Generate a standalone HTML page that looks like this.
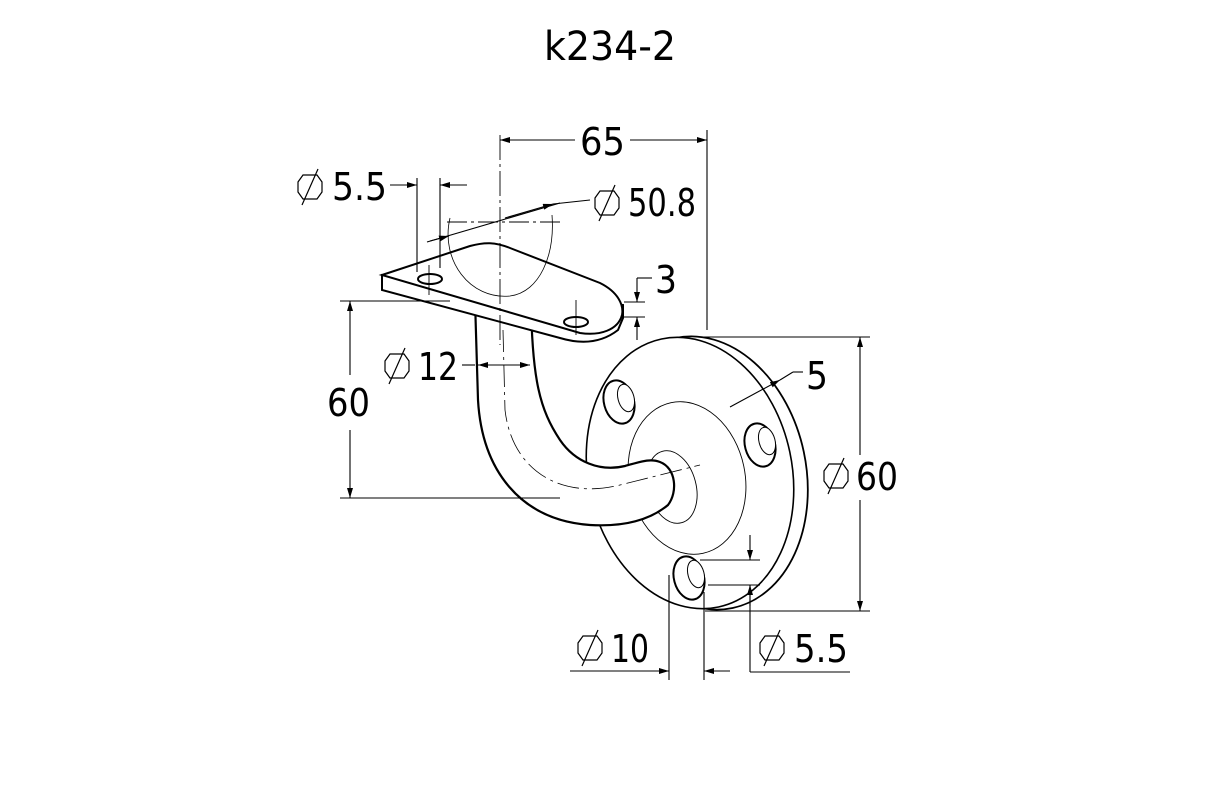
<!DOCTYPE html>
<html><head><meta charset="utf-8"><style>
html,body{margin:0;padding:0;background:#fff;}
svg{display:block}
text{font-family:"DejaVu Sans","Liberation Sans",sans-serif;fill:#000}
</style></head><body>
<svg width="1205" height="800" viewBox="0 0 1205 800" xmlns="http://www.w3.org/2000/svg">
<defs>
<marker id="a" viewBox="0 0 10 6" refX="10" refY="3" markerWidth="10" markerHeight="6" orient="auto-start-reverse" markerUnits="userSpaceOnUse"><path d="M0,0 L10,3 L0,6 z" fill="#000"/></marker>
<g id="dia"><path d="M-7,-12 L7,-12 L12,-5 L12,5 L7,12 L-7,12 L-12,5 L-12,-5 Z" fill="none" stroke="#000" stroke-width="1.2"/><line x1="-8" y1="18" x2="8" y2="-18" stroke="#000" stroke-width="1.2"/></g>
</defs>

<text x="544" y="60" font-size="40" textLength="132" lengthAdjust="spacingAndGlyphs">k234-2</text>

<!-- flange -->
<g stroke="#000" fill="#fff">
<ellipse cx="704" cy="473" rx="102" ry="138" transform="rotate(-12 704 473)" stroke-width="1.8"/>
<ellipse cx="690" cy="473" rx="102" ry="137" transform="rotate(-12 690 473)" stroke-width="1.6"/>
</g>
<ellipse cx="687" cy="478" rx="58" ry="77" transform="rotate(-12 687 478)" fill="none" stroke="#000" stroke-width="0.9"/>
<g fill="#fff" stroke="#000">
<ellipse cx="619" cy="402" rx="15" ry="22" transform="rotate(-15 619 402)" stroke-width="2"/>
<ellipse cx="626" cy="398" rx="8" ry="14" transform="rotate(-15 626 398)" stroke-width="1"/>
<ellipse cx="760" cy="445" rx="15" ry="22" transform="rotate(-15 760 445)" stroke-width="2"/>
<ellipse cx="767" cy="441" rx="8" ry="14" transform="rotate(-15 767 441)" stroke-width="1"/>
<ellipse cx="689" cy="578" rx="15" ry="22" transform="rotate(-15 689 578)" stroke-width="2"/>
<ellipse cx="696" cy="574" rx="8" ry="14" transform="rotate(-15 696 574)" stroke-width="1"/>
</g>
<ellipse cx="672" cy="487" rx="24" ry="37" transform="rotate(-15 672 487)" fill="#fff" stroke="#000" stroke-width="0.9"/>
<!-- tube -->
<path d="M475,300 L478,400 C482,470 520,520 590,525 C625,527 650,520 668,505 C678,492 676,468 660,462 C650,458 640,462 625,466 C600,472 575,462 560,440 C540,410 532,380 531,300 Z" fill="#fff" stroke="#000" stroke-width="2.2"/>
<path d="M503,330 L505,410 C512,470 560,500 620,485 L700,465" fill="none" stroke="#000" stroke-width="0.8" stroke-dasharray="22,5,3,5"/>
<!-- plate -->
<path d="M382,275 L382,290 L560,338 C580,344 600,344 618,330 L623,318 L623,305 Z" fill="#fff" stroke="#000" stroke-width="2"/>
<path d="M382,275 L470,246 C485,242 495,242 510,248 L600,283 C618,292 624,305 622,315 C618,330 600,336 580,333 L382,275 Z" fill="#fff" stroke="#000" stroke-width="2"/>
<path d="M450,218 C440,260 470,300 510,296 C540,292 555,255 552,215" fill="none" stroke="#000" stroke-width="0.8"/>
<ellipse cx="430" cy="279" rx="12" ry="5" fill="#fff" stroke="#000" stroke-width="2"/>
<ellipse cx="576" cy="322" rx="12" ry="5" fill="#fff" stroke="#000" stroke-width="2"/>
<g stroke="#000" stroke-width="0.9" fill="none">
<line x1="500" y1="135" x2="500" y2="345" stroke-dasharray="25,4,3,4"/>
<line x1="447" y1="222" x2="560" y2="222" stroke-dasharray="20,4,3,4"/>
<line x1="429" y1="265" x2="429" y2="295"/>
<line x1="576" y1="300" x2="576" y2="335"/>
</g>
<g stroke="#000" stroke-width="1.1" fill="none">
<line x1="707" y1="130" x2="707" y2="330"/>
<line x1="500" y1="140" x2="575" y2="140" marker-start="url(#a)"/>
<line x1="630" y1="140" x2="707" y2="140" marker-end="url(#a)"/>
<line x1="417" y1="178" x2="417" y2="272"/>
<line x1="440" y1="178" x2="440" y2="268"/>
<line x1="390" y1="185" x2="417" y2="185" marker-end="url(#a)"/>
<line x1="467" y1="185" x2="440" y2="185" marker-end="url(#a)"/>
<line x1="427" y1="242" x2="560" y2="203"/>
<line x1="430" y1="241" x2="449" y2="236" marker-end="url(#a)"/>
<line x1="505" y1="218" x2="553" y2="204" marker-end="url(#a)"/>
<line x1="553" y1="204" x2="590" y2="200"/>
<line x1="624" y1="302" x2="645" y2="302"/>
<line x1="624" y1="317" x2="645" y2="317"/>
<line x1="637" y1="278" x2="652" y2="278"/>
<line x1="637" y1="278" x2="637" y2="302" marker-end="url(#a)"/>
<line x1="637" y1="340" x2="637" y2="317" marker-end="url(#a)"/>
<line x1="340" y1="301" x2="450" y2="301"/>
<line x1="340" y1="498" x2="560" y2="498"/>
<line x1="350" y1="375" x2="350" y2="301" marker-end="url(#a)"/>
<line x1="350" y1="430" x2="350" y2="498" marker-end="url(#a)"/>
<line x1="462" y1="365" x2="475" y2="365"/>
<line x1="478" y1="365" x2="530" y2="365" marker-start="url(#a)" marker-end="url(#a)"/>
<line x1="730" y1="407" x2="780" y2="380" marker-end="url(#a)"/>
<line x1="780" y1="380" x2="793" y2="372"/>
<line x1="793" y1="372" x2="803" y2="372"/>
<line x1="700" y1="337" x2="870" y2="337"/>
<line x1="705" y1="611" x2="870" y2="611"/>
<line x1="860" y1="455" x2="860" y2="337" marker-end="url(#a)"/>
<line x1="860" y1="500" x2="860" y2="611" marker-end="url(#a)"/>
<line x1="700" y1="560" x2="760" y2="560"/>
<line x1="708" y1="585" x2="760" y2="585"/>
<line x1="750" y1="535" x2="750" y2="560" marker-end="url(#a)"/>
<line x1="750" y1="606" x2="750" y2="585" marker-end="url(#a)"/>
<line x1="750" y1="585" x2="750" y2="672"/>
<line x1="750" y1="672" x2="850" y2="672"/>
<line x1="669" y1="575" x2="669" y2="680"/>
<line x1="704" y1="592" x2="704" y2="680"/>
<line x1="570" y1="671" x2="669" y2="671" marker-end="url(#a)"/>
<line x1="730" y1="671" x2="704" y2="671" marker-end="url(#a)"/>
</g>
<g font-size="38">
<text x="580" y="155" textLength="45" lengthAdjust="spacingAndGlyphs">65</text>
<use href="#dia" x="310" y="187"/>
<text x="332" y="200" textLength="55" lengthAdjust="spacingAndGlyphs">5.5</text>
<use href="#dia" x="607" y="203"/>
<text x="628" y="216" textLength="68" lengthAdjust="spacingAndGlyphs">50.8</text>
<text x="655" y="293" textLength="22" lengthAdjust="spacingAndGlyphs">3</text>
<use href="#dia" x="397" y="366"/>
<text x="418" y="380" textLength="40" lengthAdjust="spacingAndGlyphs">12</text>
<text x="327" y="416" textLength="43" lengthAdjust="spacingAndGlyphs">60</text>
<text x="806" y="389" textLength="22" lengthAdjust="spacingAndGlyphs">5</text>
<use href="#dia" x="836" y="476"/>
<text x="856" y="490" textLength="42" lengthAdjust="spacingAndGlyphs">60</text>
<use href="#dia" x="590" y="648"/>
<text x="611" y="662" textLength="38" lengthAdjust="spacingAndGlyphs">10</text>
<use href="#dia" x="772" y="648"/>
<text x="794" y="662" textLength="54" lengthAdjust="spacingAndGlyphs">5.5</text>
</g>
</svg>
</body></html>
